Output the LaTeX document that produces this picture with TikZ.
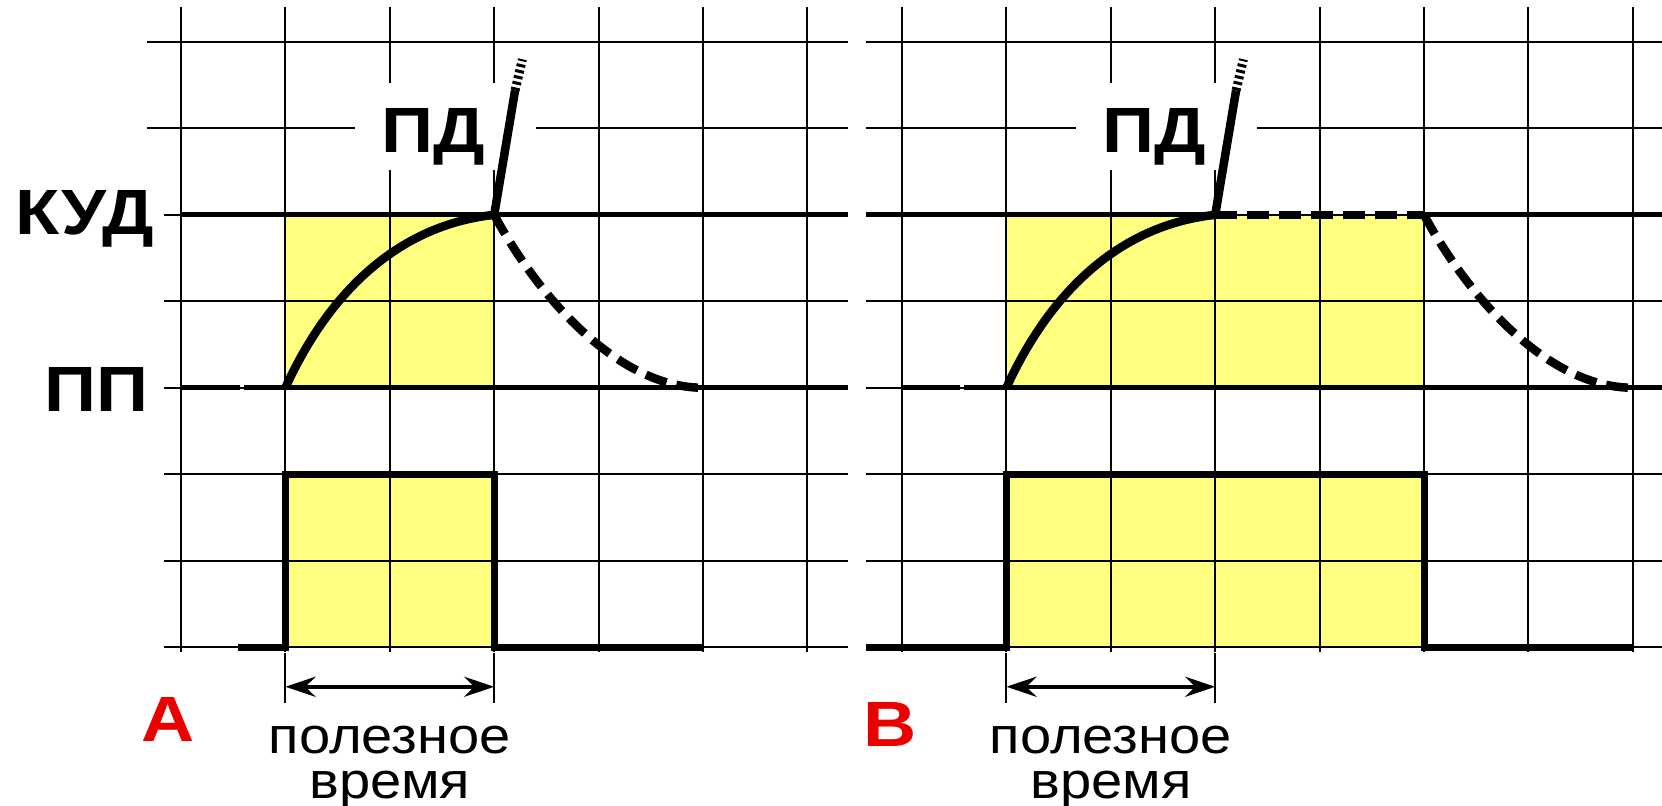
\documentclass[tikz,border=0pt]{standalone}
\usepackage{fontspec}
\setmainfont{Liberation Sans}
\usetikzlibrary{arrows.meta}
\definecolor{pulseyellow}{RGB}{255,255,128}
\definecolor{labelred}{RGB}{235,0,0}
\tikzset{
  gridline/.style={line width=2pt},
  level/.style={line width=5pt},
  signal/.style={line width=8.5pt},
  fade/.style={line width=8.5pt, dash pattern=on 22pt off 10pt},
  pdtail/.style={line width=9pt, dash pattern=on 3pt off 3pt},
  pulse/.style={line width=7pt},
  span/.style={line width=4pt, {Stealth[length=30pt,width=20pt,inset=10pt]}-{Stealth[length=30pt,width=20pt,inset=10pt]}},
  biglabel/.style={font=\fontsize{64}{64}\selectfont\bfseries, xscale=1.13, inner sep=0pt, anchor=base},
  letter/.style={font=\fontsize{64}{64}\selectfont\bfseries, text=labelred, xscale=1.15, inner sep=0pt, anchor=base},
  note/.style={font=\fontsize{51}{45}\selectfont, align=center, xscale=1.1, inner sep=0pt}
}
\begin{document}
\begin{tikzpicture}[x=104.4pt,y=-86.43pt]
\useasboundingbox (-1.7337,-0.4859) rectangle (14.1858,8.8395);
% panel A
\fill [pulseyellow] (1,2) rectangle (3,4);
\fill [pulseyellow] (1,5) rectangle (3,7);
\draw [gridline] (0,-0.405)--(0,7.06) (1,-0.405)--(1,7.06) (2,-0.405)--(2,7.06) (3,-0.405)--(3,7.06)
  (4,-0.405)--(4,7.06) (5,-0.405)--(5,7.06) (6,-0.405)--(6,7.06);
\draw [gridline] (-0.326,0)--(6.389,0) (-0.326,1)--(6.389,1) (-0.163,2)--(6.389,2) (-0.163,3)--(6.389,3)
  (-0.163,4)--(6.389,4) (-0.163,5)--(6.389,5) (-0.163,6)--(6.389,6) (-0.163,7)--(6.389,7);
\fill [white] (1.67,0.474) rectangle (3.40,1.48);
\coordinate (riseA) at (1,4);
\coordinate (topA) at (3,2);
\coordinate (endA) at (5,4);
\draw [level] (0,2)--(6.389,2);
\draw [level] (0,4)--(0.565,4);
\draw [level] (0.605,4)--(6.389,4);
\draw [signal] (riseA) .. controls (1.427,2.869) and (2.098,2.117) .. (topA);
\draw [signal] (topA)--(3.2,0.56) coordinate (pdA);
\draw [pdtail] (pdA)--(3.27,0.2);
\draw [fade] (topA) .. controls (3.439,2.985) and (4.205,4.003) .. (endA);
\draw [pulse] (0.546,7)--(1,7)--(1,5)--(3,5)--(3,7)--(5,7);
\coordinate (fromA) at (1,7.46);
\coordinate (toA) at (3,7.46);
\draw [gridline] (1,7.07)--(1,7.65);
\draw [gridline] (3,7.07)--(3,7.65);
\draw [span] (fromA)--(toA);
\node [biglabel] (kud) at (-0.92,2.233) {КУД};
\node [biglabel] (pp) at (-0.814,4.28) {ПП};
\node [biglabel] (pdlabelA) at (2.42,1.273) {ПД};
\node [letter] (caseA) at (-0.125,8.095) {A};
\node [note] (usefulA) at (2,8.39) {полезное\\время};
% panel B
\begin{scope}[xshift=721pt]
\fill [pulseyellow] (1,2) rectangle (5,4);
\fill [pulseyellow] (1,5) rectangle (5,7);
\draw [gridline] (0,-0.405)--(0,7.06) (1,-0.405)--(1,7.06) (2,-0.405)--(2,7.06) (3,-0.405)--(3,7.06)
  (4,-0.405)--(4,7.06) (5,-0.405)--(5,7.06) (6,-0.405)--(6,7.06) (7,-0.405)--(7,7.06);
\draw [gridline] (-0.345,0)--(7.3,0) (-0.345,1)--(7.3,1) (-0.345,2)--(7.3,2) (-0.345,3)--(7.3,3)
  (-0.345,4)--(7.3,4) (-0.345,5)--(7.3,5) (-0.345,6)--(7.3,6) (-0.345,7)--(7.3,7);
\fill [white] (1.67,0.474) rectangle (3.40,1.48);
\coordinate (riseB) at (1,4);
\coordinate (topB) at (3,2);
\coordinate (holdB) at (5,2);
\coordinate (endB) at (7,4);
\draw [level] (-0.345,2)--(topB);
\draw [level] (holdB)--(7.3,2);
\draw [level] (0,4)--(0.556,4);
\draw [level] (0.594,4)--(7.3,4);
\draw [fade] (topB)--(holdB);
\draw [signal] (riseB) .. controls (1.427,2.869) and (2.098,2.117) .. (topB);
\draw [signal] (topB)--(3.2,0.56) coordinate (pdB);
\draw [pdtail] (pdB)--(3.27,0.2);
\draw [fade] (holdB) .. controls (5.439,2.985) and (6.205,4.003) .. (endB);
\draw [pulse] (-0.345,7)--(1,7)--(1,5)--(5,5)--(5,7)--(7,7);
\coordinate (fromB) at (1,7.46);
\coordinate (toB) at (3,7.46);
\draw [gridline] (1,7.07)--(1,7.65);
\draw [gridline] (3,7.07)--(3,7.65);
\draw [span] (fromB)--(toB);
\node [biglabel] (pdlabelB) at (2.42,1.273) {ПД};
\node [letter] (caseB) at (-0.115,8.15) {B};
\node [note] (usefulB) at (2,8.39) {полезное\\время};
\end{scope}
\end{tikzpicture}
\end{document}
